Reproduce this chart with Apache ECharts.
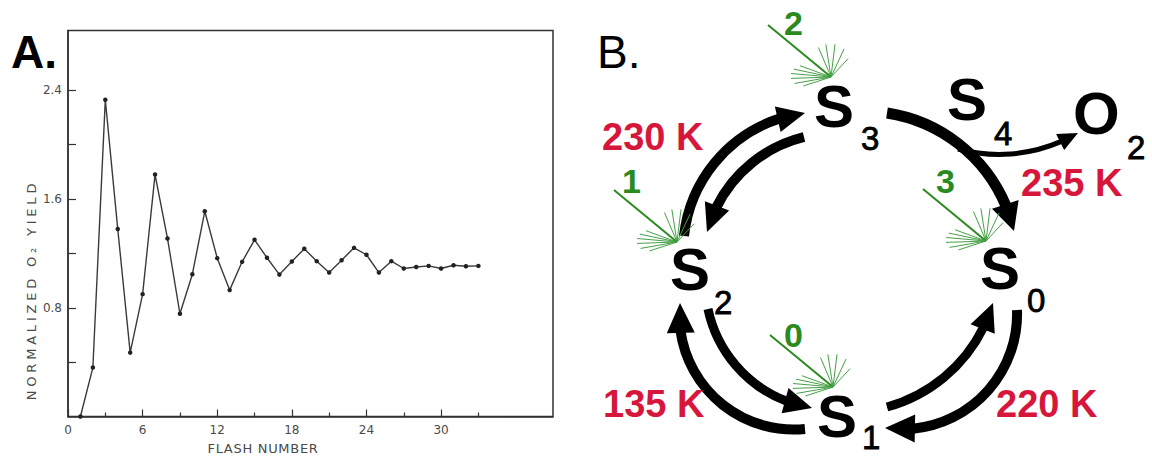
<!DOCTYPE html>
<html><head><meta charset="utf-8">
<script src="https://cdn.jsdelivr.net/npm/echarts@6/dist/echarts.min.js"></script>
<style>html,body{margin:0;padding:0;background:#fff}#c{width:1152px;height:456px}</style>
</head><body><div id="c"></div>
<script>
// ---------- Panel A data ----------
const flashNumbers = [1,2,3,4,5,6,7,8,9,10,11,12,13,14,15,16,17,18,19,20,21,22,23,24,25,26,27,28,29,30,31,32,33];
const o2Yield = [0.0,0.36,2.33,1.38,0.47,0.90,1.78,1.31,0.756,1.047,1.51,1.165,0.93,1.138,1.30,1.168,1.044,1.14,1.234,1.143,1.059,1.15,1.241,1.19,1.059,1.143,1.089,1.10,1.108,1.089,1.113,1.106,1.108];
const xLabelValues = [0,6,12,18,24,30];
const xMajorTicks = [0,6,12,18,24,30];
const xMinorTicks = [3,9,15,21,27,33];
const yTickValues = [0.4,0.8,1.2,1.6,2.0,2.4];
const yLabelValues = [0.8,1.6,2.4];
const xAxisTitle = 'FLASH NUMBER';
const yAxisTitle = 'NORMALIZED O\u2082 YIELD';
const panelLabels = ['A.','B.'];

// ---------- Panel B content ----------
const stateMain = ['S','S','O','S','S','S'];
const stateSub = ['3','4','2','2','0','1'];
const tempLabels = ['230 K','235 K','135 K','220 K'];
const flashLabels = ['2','1','3','0'];

// ---------- Panel B layout (diagram geometry) ----------
const layoutB = {
  statePos: [[814,106],[947,99],[1073,113],[670,269.5],[980,268.5],[817,416]],
  subPos: [[861,138],[994,133],[1127,147],[714,302],[1027,300.5],[862,437]],
  tempPos: [[602,136.5],[1021,182.5],[603,403.5],[996,403.5]],
  flashPos: [[784,22.5],[622,181],[936,180.5],[784,334.5]],
  fanPos: [[831,77],[677,242],[986,241],[833,387]],
  fanRays: [[160,33],[168,38],[175,40],[182,40],[190,37],[198,29],[47,25],[65,31],[83,33],[99,33],[113,32]],
  arrows: [
    {p0:[684,236], pm:[717,160], p2:[805,113], w:10, hl:28, hw:26},
    {p0:[804,137], pm:[747,167], p2:[707,232], w:10, hl:28, hw:26},
    {p0:[887,113], pm:[960,145], p2:[1014,231], w:11, hl:28, hw:28},
    {p0:[958,149], pm:[1010,154], p2:[1078,133], w:5, hl:20, hw:18},
    {p0:[1017,310], pm:[999,376], p2:[885,428], w:10, hl:30, hw:28},
    {p0:[887,407], pm:[960,362], p2:[993,303], w:9, hl:28, hw:26},
    {p0:[805,429], pm:[697,376], p2:[680,303], w:10, hl:30, hw:28},
    {p0:[708,309], pm:[739,369], p2:[812,408], w:9, hl:28, hw:26}
  ]
};

const FONT = '"Liberation Sans", Arial, sans-serif';
const RED = '#d6173b', GREEN = '#2b8a1f', FAN = '#46a046';

function circ(a,b,c){
  const d = 2*(a[0]*(b[1]-c[1]) + b[0]*(c[1]-a[1]) + c[0]*(a[1]-b[1]));
  const A=a[0]*a[0]+a[1]*a[1], B=b[0]*b[0]+b[1]*b[1], C=c[0]*c[0]+c[1]*c[1];
  const ux = (A*(b[1]-c[1]) + B*(c[1]-a[1]) + C*(a[1]-b[1]))/d;
  const uy = (A*(c[0]-b[0]) + B*(a[0]-c[0]) + C*(b[0]-a[0]))/d;
  return [ux,uy,Math.hypot(a[0]-ux,a[1]-uy)];
}
const TAU = Math.PI*2;
const nrm = a => ((a%TAU)+TAU)%TAU;
function arrowEls(ar){
  const [cx,cy,r] = circ(ar.p0, ar.pm, ar.p2);
  const a0 = Math.atan2(ar.p0[1]-cy, ar.p0[0]-cx);
  const am = Math.atan2(ar.pm[1]-cy, ar.pm[0]-cx);
  const a2 = Math.atan2(ar.p2[1]-cy, ar.p2[0]-cx);
  const dir = nrm(am-a0) < nrm(a2-a0) ? 1 : -1;
  const ab = a2 - dir*ar.hl/r;
  const bx = cx + r*Math.cos(ab), by = cy + r*Math.sin(ab);
  const dx = ar.p2[0]-bx, dy = ar.p2[1]-by, L = Math.hypot(dx,dy);
  const nx = -dy/L, ny = dx/L;
  return [
    {type:'arc', z:10, silent:true, shape:{cx:cx, cy:cy, r:r, startAngle:a0, endAngle:ab + dir*2/r, clockwise: dir>0},
     style:{stroke:'#000', fill:'none', lineWidth:ar.w, lineCap:'butt'}},
    {type:'polygon', z:10, silent:true, shape:{points:[ar.p2, [bx+nx*ar.hw/2, by+ny*ar.hw/2], [bx-nx*ar.hw/2, by-ny*ar.hw/2]]},
     style:{fill:'#000', stroke:'none'}}
  ];
}
function txt(x,y,text,font,fill,extraStyle){
  return {type:'text', x:x, y:y, z:30, silent:true,
    style:Object.assign({text:text, font:font, fill:fill, textAlign:'left', textVerticalAlign:'middle', verticalAlign:'middle'}, extraStyle||{})};
}

const graphics = [];
// panel labels
graphics.push(txt(11,51.5,panelLabels[0],'bold 46px '+FONT,'#000'));
graphics.push(txt(597,51.5,panelLabels[1],'46px '+FONT,'#000'));
// axis titles of panel A
graphics.push({type:'text', x:263, y:448, z:30, silent:true,
  style:{text:xAxisTitle, font:'13px "DejaVu Sans", sans-serif', fill:'#4a4a4a', textAlign:'center', textVerticalAlign:'middle', verticalAlign:'middle'}});
graphics.push({type:'text', x:31, y:290, z:30, rotation:Math.PI/2, silent:true,
  style:{text:yAxisTitle, font:'13px "DejaVu Sans", sans-serif', fill:'#4a4a4a', textAlign:'center', textVerticalAlign:'middle', verticalAlign:'middle'}});
// arrows
layoutB.arrows.forEach(a => arrowEls(a).forEach(e => graphics.push(e)));
// flash bursts
layoutB.fanPos.forEach(p => {
  graphics.push({type:'line', z:20, silent:true, shape:{x1:p[0]-63, y1:p[1]-52, x2:p[0], y2:p[1]}, style:{stroke:GREEN, lineWidth:2}});
  layoutB.fanRays.forEach(rr => {
    const t = rr[0]*Math.PI/180;
    graphics.push({type:'line', z:20, silent:true, shape:{x1:p[0], y1:p[1], x2:p[0]+rr[1]*Math.cos(t), y2:p[1]-rr[1]*Math.sin(t)}, style:{stroke:FAN, lineWidth:1}});
  });
});
// states
stateMain.forEach((s,i) => {
  graphics.push(txt(layoutB.statePos[i][0], layoutB.statePos[i][1], s, 'bold 60px '+FONT, '#000'));
  graphics.push(txt(layoutB.subPos[i][0], layoutB.subPos[i][1], stateSub[i], '33px '+FONT, '#000', {stroke:'#000', lineWidth:0.8}));
});
tempLabels.forEach((t,i) => graphics.push(txt(layoutB.tempPos[i][0], layoutB.tempPos[i][1], t, 'bold 38px '+FONT, RED)));
flashLabels.forEach((t,i) => graphics.push(txt(layoutB.flashPos[i][0], layoutB.flashPos[i][1], t, 'bold 34px '+FONT, GREEN)));

const axisColor = '#333';
const labelColor = '#4a4a4a';
const chart = echarts.init(document.getElementById('c'), null, {renderer:'svg'});
chart.setOption({
  animation:false,
  backgroundColor:'#fff',
  grid:{left:68, top:30.5, right:599, bottom:39.5, show:true, borderColor:axisColor, borderWidth:1.5},
  xAxis:[{
    type:'value', min:0, max:39, interval:6,
    axisLine:{show:true, onZero:false, lineStyle:{color:axisColor, width:1.5}},
    axisTick:{show:true, inside:true, length:7, customValues:xMajorTicks, lineStyle:{color:axisColor, width:1.2}},
    axisLabel:{customValues:xLabelValues, margin:7, color:labelColor, fontSize:12, fontFamily:'"DejaVu Sans", sans-serif'},
    splitLine:{show:false}
  },{
    type:'value', min:0, max:39, interval:3, position:'bottom', gridIndex:0,
    axisLine:{show:false},
    axisTick:{show:true, inside:true, length:4, customValues:xMinorTicks, lineStyle:{color:axisColor, width:1.2}},
    axisLabel:{show:false},
    splitLine:{show:false}
  }],
  yAxis:{
    type:'value', min:0, max:2.84,
    axisLine:{show:true, onZero:false, lineStyle:{color:axisColor, width:1.5}},
    axisTick:{show:true, inside:true, length:8, customValues:yTickValues, lineStyle:{color:axisColor, width:1.2}},
    axisLabel:{customValues:yLabelValues, margin:6, color:labelColor, fontSize:12, fontFamily:'"DejaVu Sans", sans-serif',
      formatter: v => v.toFixed(1)},
    splitLine:{show:false}
  },
  series:[{
    type:'line', xAxisIndex:0, yAxisIndex:0,
    data: flashNumbers.map((f,i) => [f, o2Yield[i]]),
    symbol:'circle', symbolSize:4.5, showSymbol:true,
    lineStyle:{color:'#3a3a3a', width:1.4},
    itemStyle:{color:'#222'},
    silent:true
  }],
  graphic: graphics
});

// widen the spaced-out lettering of the scanned axis titles
function spaceTitles(){
  document.querySelectorAll('#c svg text').forEach(t => {
    if (t.textContent === yAxisTitle) t.style.letterSpacing = '3.8px';
    else if (t.textContent === xAxisTitle) t.style.letterSpacing = '0.7px';
  });
}
spaceTitles();
chart.on('finished', spaceTitles);
</script>
</body></html>
